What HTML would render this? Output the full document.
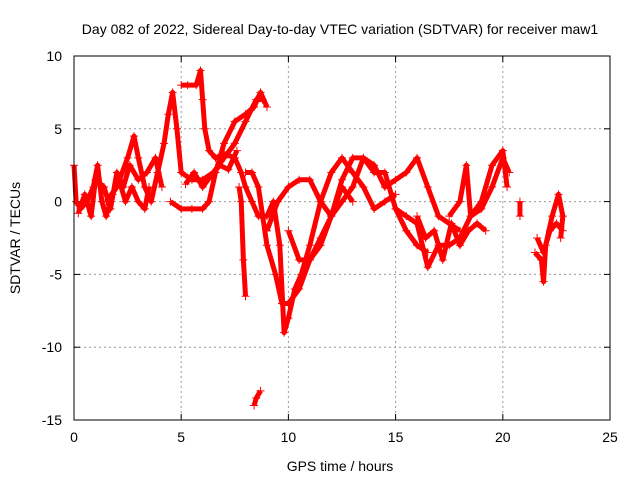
<!DOCTYPE html>
<html><head><meta charset="utf-8"><style>
body{margin:0;background:#fff;}
svg{font-family:"Liberation Sans",sans-serif;}
</style></head><body>
<svg id="chart" width="640" height="480">
<text x="340" y="34" font-size="14" text-anchor="middle">Day 082 of 2022, Sidereal Day-to-day VTEC variation (SDTVAR) for receiver maw1</text>
<text x="340" y="471" font-size="14" text-anchor="middle">GPS time / hours</text>
<text transform="translate(20,238) rotate(-90)" font-size="14" text-anchor="middle">SDTVAR / TECUs</text>
<g id="grid"></g><g id="ticks"></g><g id="marks"></g>
<rect x="74" y="56" width="536" height="364" fill="none" stroke="#000"/>
</svg>
<script>
const xTicks=[0,5,10,15,20,25];
const yTicks=[10,5,0,-5,-10,-15];
const trackA=[[0,2.5],[0.1,0],[0.3,-0.5],[0.6,0],[0.9,1],[1.1,2.5],[1.3,0],[1.5,-1],[1.8,0.5],[2.1,1.5],[2.4,0],[2.7,1],[3,0],[3.3,-0.5],[3.5,1]];
const trackB=[[1.5,0],[2,1],[2.5,3],[2.8,4.5],[3,3],[3.3,1],[3.6,0],[3.9,2],[4.2,4],[4.4,6],[4.6,7.5],[4.8,5],[5,2],[5.5,1.5],[6,1.5],[6.5,2],[7,3],[7.5,4],[8,5.5],[8.5,7],[8.8,7]];
const trackC=[[4.5,0],[5,-0.5],[5.5,-0.5],[6,-0.5],[6.3,0],[6.6,2],[7,4],[7.5,5.5],[8,6],[8.4,6.5],[8.7,7.5],[9,6.5]];
const trackD=[[5,8],[5.3,8],[5.7,8],[5.9,9],[6,7],[6.1,5],[6.3,3.5],[6.6,3],[7,3.3],[7.5,3],[7.8,2],[8,1],[8.3,0],[8.6,-1],[9,-1],[9.3,0],[9.6,-3],[9.8,-9],[10,-8],[10.3,-6],[10.6,-5],[11,-3],[11.5,0],[12,2],[12.5,3],[13,2],[13.5,1],[14,-0.5],[14.5,0],[15,0.5]];
const trackE=[[8,2],[8.3,2],[8.6,1],[9,-3],[9.4,-5],[9.7,-7],[10,-7],[10.5,-6],[11,-4],[11.5,-2.5],[12,-1],[12.5,1.5],[13,3],[13.5,3],[14,2],[14.5,2],[15,-0.5],[15.5,-2],[16,-3],[16.5,-3.5]];
const trackF=[[9,-2],[9.5,0],[10,1],[10.5,1.5],[11,1.5],[11.5,0],[12,-1],[12.5,0],[13,1],[13.5,3],[14,2.5],[14.5,1],[15,1.5],[15.5,2],[16,3],[16.5,1],[17,-1],[17.5,-1.5],[18,-2]];
const trackG=[[15,-0.5],[15.5,-1],[16,-1.5],[16.5,-4.5],[17,-3],[17.5,-3],[18,-2.5],[18.5,-1],[19,-0.5],[19.5,1],[20,3],[20.3,2]];
const trackH=[[17.5,-1],[18,0],[18.3,2.5],[18.5,-1],[19,0],[19.5,2.5],[20,3.5],[20.2,1]];
const trackI=[[20.8,0],[20.8,-1]];
const trackJ=[[21.5,-3.5],[21.8,-4],[21.9,-5.5],[22,-3],[22.3,-1],[22.6,0.5],[22.8,-1],[22.7,-2.5]];
const trackK=[[7.7,1],[7.8,0],[7.9,-4],[8,-6.5]];
const trackL=[[8.4,-14],[8.5,-13.5],[8.7,-13]];
const trackM=[[10,-2],[10.5,-4],[11,-4],[11.5,-3],[12,-1],[12.5,1],[13,0]];
const trackN=[[0.2,-0.8],[0.5,0.5],[0.8,-1],[1,1.5],[1.4,1],[1.7,-0.5],[2,2],[2.3,1],[2.6,2.5],[3,1.5],[3.4,2],[3.8,3],[4.1,1]];
const trackO=[[16,-1],[16.4,-2.5],[16.8,-2],[17.2,-4],[17.6,-1.5],[18,-3],[18.4,-2],[18.8,-1.5],[19.2,-2]];
const trackP=[[21.6,-2.5],[21.9,-3.5],[22.2,-2],[22.5,-1.5],[22.8,-2]];
const trackQ=[[5.2,1.2],[5.6,2],[6,1],[6.4,1.8],[6.8,2.5],[7.2,2.2],[7.6,3.5]];
const tracks=[trackA,trackB,trackC,trackD,trackE,trackF,trackG,trackH,trackI,trackJ,trackK,trackL,trackM,trackN,trackO,trackP,trackQ];
const NS="http://www.w3.org/2000/svg";
const X=v=>74+v*536/25, Y=v=>56+(10-v)*364/25;
function mk(t,a){const e=document.createElementNS(NS,t);for(const k in a)e.setAttribute(k,a[k]);return e;}
const grid=document.getElementById('grid'),ticks=document.getElementById('ticks'),marks=document.getElementById('marks');
xTicks.forEach(v=>{const x=X(v);
 if(v>0&&v<25){const g=mk('line',{x1:x,x2:x,y1:56,y2:420,stroke:'#999','stroke-dasharray':'2,3'});grid.appendChild(g);}
 ticks.appendChild(mk('line',{x1:x,x2:x,y1:420,y2:414,stroke:'#000'}));
 ticks.appendChild(mk('line',{x1:x,x2:x,y1:56,y2:62,stroke:'#000'}));
 const t=mk('text',{x:x,y:442,'font-size':14,'text-anchor':'middle'});t.textContent=v;
 
 ticks.appendChild(t);});
yTicks.forEach(v=>{const y=Y(v);
 if(v<10&&v>-15){const g=mk('line',{x1:74,x2:610,y1:y,y2:y,stroke:'#999','stroke-dasharray':'2,3'});grid.appendChild(g);}
 ticks.appendChild(mk('line',{x1:74,x2:80,y1:y,y2:y,stroke:'#000'}));
 ticks.appendChild(mk('line',{x1:604,x2:610,y1:y,y2:y,stroke:'#000'}));
 const t=mk('text',{x:62,y:y+5,'font-size':14,'text-anchor':'end'});t.textContent=v;
 
 ticks.appendChild(t);});
tracks.forEach(tr=>{
 const p=mk('polyline',{points:tr.map(d=>X(d[0])+','+Y(d[1])).join(' '),fill:'none',stroke:'#f00','stroke-width':5,'stroke-linejoin':'round'});
 
 
 marks.appendChild(p);
 tr.forEach(d=>{const x=X(d[0]),y=Y(d[1]);
  const m=mk('path',{d:`M${x-4},${y}h8M${x},${y-4}v8`,stroke:'#f00','stroke-width':1});
  
  
  marks.appendChild(m);});
});
</script>
</body></html>
